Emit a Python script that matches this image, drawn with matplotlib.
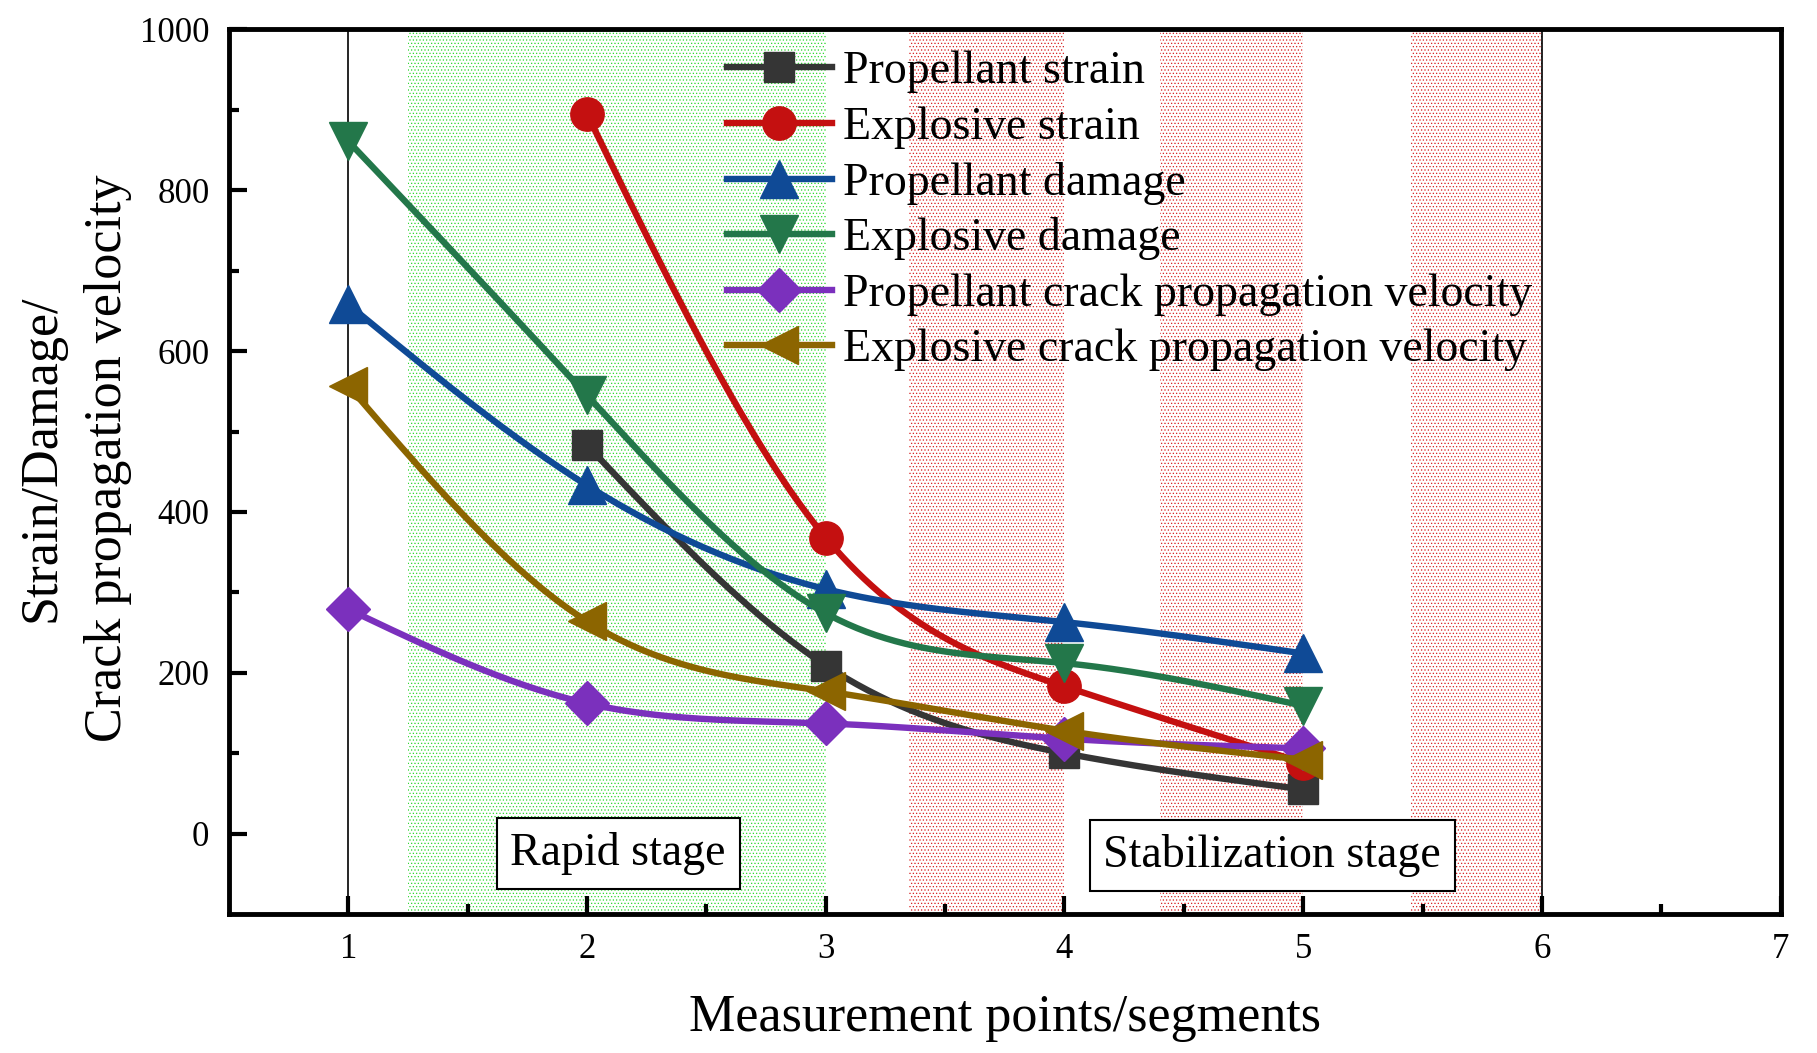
import numpy as np
import matplotlib
matplotlib.use('Agg')
import matplotlib.pyplot as plt

plt.rcParams['font.family'] = ['Liberation Serif', 'DejaVu Serif']
plt.rcParams['hatch.linewidth'] = 0.5

# data
x_points = [1, 2, 3, 4, 5]
prop_strain_x = [2, 3, 4, 5]
prop_strain = [483, 209, 100, 55]
expl_strain_x = [2, 3, 4, 5]
expl_strain = [895, 368, 183, 88]
prop_damage = [658, 433, 304, 263, 224]
expl_damage = [861, 545, 274, 212, 159]
prop_crack = [279, 162, 137, 118, 106]
expl_crack = [557, 264, 177, 128, 92]

labels = ['Propellant strain', 'Explosive strain', 'Propellant damage',
          'Explosive damage', 'Propellant crack propagation velocity',
          'Explosive crack propagation velocity']
colors = ['#353535', '#c41010', '#0f4a96', '#23774a', '#7b30bd', '#8c6500']
markers = ['s', 'o', '^', 'v', 'D', '<']
msizes = [22, 24, 28, 28, 22, 28]

green_band = (1.25, 3.0)
red_bands = [(3.35, 4.0), (4.4, 5.0), (5.45, 6.0)]


def spline(x, y, n=200):
    """natural cubic spline through the points, for drawing the curve"""
    x = np.asarray(x, float)
    y = np.asarray(y, float)
    k = len(x)
    h = np.diff(x)
    A = np.zeros((k, k))
    b = np.zeros(k)
    A[0, 0] = A[-1, -1] = 1
    for i in range(1, k - 1):
        A[i, i - 1] = h[i - 1]
        A[i, i] = 2 * (h[i - 1] + h[i])
        A[i, i + 1] = h[i]
        b[i] = 6 * ((y[i + 1] - y[i]) / h[i] - (y[i] - y[i - 1]) / h[i - 1])
    M = np.linalg.solve(A, b)
    xs = np.linspace(x[0], x[-1], n)
    idx = np.clip(np.searchsorted(x, xs) - 1, 0, k - 2)
    x0, x1 = x[idx], x[idx + 1]
    hh = x1 - x0
    t0 = x1 - xs
    t1 = xs - x0
    ys = (M[idx] * t0**3 + M[idx + 1] * t1**3) / (6 * hh) \
        + (y[idx] / hh - M[idx] * hh / 6) * t0 \
        + (y[idx + 1] / hh - M[idx + 1] * hh / 6) * t1
    return xs, ys


fig = plt.figure(figsize=(18.17, 10.53), dpi=100)
ax = fig.add_axes([0.126, 0.132, 0.854, 0.840])

ax.axvspan(*green_band, facecolor='white', edgecolor='#2fd82f',
           hatch='.....', linewidth=0, zorder=0)
for lo, hi in red_bands:
    ax.axvspan(lo, hi, facecolor='white', edgecolor='#d82020',
               hatch='.....', linewidth=0, zorder=0)
ax.axvline(1, color='black', lw=1.2, zorder=1)
ax.axvline(6, color='black', lw=1.2, zorder=1)

series = [(prop_strain_x, prop_strain), (expl_strain_x, expl_strain),
          (x_points, prop_damage), (x_points, expl_damage),
          (x_points, prop_crack), (x_points, expl_crack)]

handles = []
for i, (xs, ys) in enumerate(series):
    sx, sy = spline(xs, ys)
    ax.plot(sx, sy, color=colors[i], lw=4.6, zorder=3 + i)
    ax.plot(xs, ys, linestyle='none', marker=markers[i], ms=msizes[i],
            color=colors[i], mec=colors[i], zorder=3 + i)
    h, = ax.plot([], [], color=colors[i], lw=4.6, marker=markers[i],
                 ms=msizes[i], mec=colors[i], label=labels[i])
    handles.append(h)

ax.legend(handles=handles, loc='upper left', bbox_to_anchor=(0.3, 1.012),
          frameon=False, fontsize=33, handlelength=2.3, handletextpad=0.25,
          labelspacing=0.28, borderaxespad=0.3)

box = dict(boxstyle='square,pad=0.3', fc='white', ec='black', lw=1.5)
ax.text(2.13, -25, 'Rapid stage', fontsize=33, ha='center', va='center',
        bbox=box, zorder=20)
ax.text(4.87, -27, 'Stabilization stage', fontsize=33, ha='center',
        va='center', bbox=box, zorder=20)

ax.set_xlim(0.5, 7)
ax.set_ylim(-100, 1000)
ax.set_xticks([1, 2, 3, 4, 5, 6, 7])
ax.set_xticks(np.arange(1.5, 7, 1), minor=True)
ax.set_yticks([0, 200, 400, 600, 800, 1000])
ax.set_yticks([100, 300, 500, 700, 900], minor=True)
ax.tick_params(which='both', direction='in', top=False, right=False,
               labelsize=25, width=3)
ax.tick_params(which='major', length=13, pad=14)
ax.tick_params(which='minor', length=7)
for s in ax.spines.values():
    s.set_linewidth(3.5)

ax.set_xlabel('Measurement points/segments', fontsize=37.5, labelpad=20)
fig.text(0.041, 0.565, 'Strain/Damage/\nCrack propagation velocity',
         rotation=90, fontsize=37.5, ha='center', va='center',
         multialignment='center', linespacing=1.5)

fig.savefig('out.png', dpi=100)
